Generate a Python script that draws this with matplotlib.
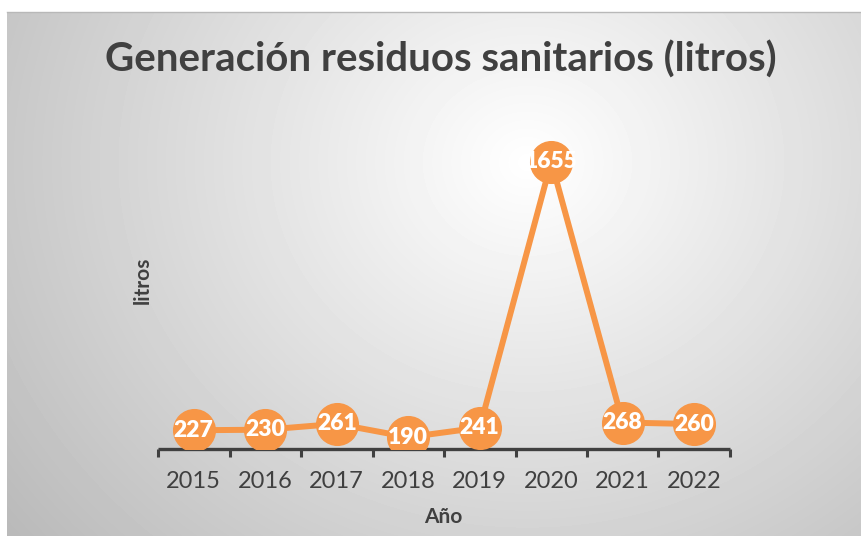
import numpy as np
import matplotlib.pyplot as plt

years = ["2015", "2016", "2017", "2018", "2019", "2020", "2021", "2022"]
litros = [227, 230, 261, 190, 241, 1655, 268, 260]

ORANGE = "#F79646"
DARK = "#404040"
W, H = 861, 536

plt.rcParams['font.family'] = ['Lato', 'DejaVu Sans']

fig = plt.figure(figsize=(W / 100, H / 100), dpi=100)

# background panel with radial gradient
bg = fig.add_axes([7 / W, 0, 1 - 7 / W, (H - 12) / H])
yy, xx = np.mgrid[0:524, 0:854]
cx, cy = 520, 150
r = np.sqrt(((xx - cx) / 560.0) ** 2 + ((yy - cy) / 500.0) ** 2)
shade = 1.0 - 0.23 * np.clip(r, 0, 1.2)
bg.imshow(shade, cmap="gray", vmin=0, vmax=1, aspect="auto",
          extent=(0, 1, 0, 1), origin="upper", interpolation="bilinear")
bg.set_axis_off()
bg.plot([0, 1], [1, 1], color="#b8b8b8", lw=1, transform=bg.transAxes, clip_on=False)

ax = fig.add_axes([158 / W, (H - 448.5) / H, 572 / W, (448.5 - 130) / H])
ax.patch.set_alpha(0)
x = np.arange(len(years))
ax.plot(x, litros, color=ORANGE, lw=4.3, marker="o", markersize=30,
        markerfacecolor=ORANGE, markeredgecolor=ORANGE, zorder=3)
for xi, v in zip(x, litros):
    ax.text(xi, v, str(v), ha="center", va="center", color="white",
            fontsize=16.5, fontweight="heavy", zorder=4)

ax.set_xlim(-0.5, len(years) - 0.5)
ax.set_ylim(130, 1823)
ax.set_xticks(x)
ax.set_xticklabels(years, fontsize=17, color=DARK)
ax.set_xticks(np.arange(-0.5, len(years)), minor=True)
ax.tick_params(axis="x", which="major", length=0, pad=16)
ax.tick_params(axis="x", which="minor", length=6, width=2.2, color=DARK, direction="out")
ax.set_yticks([])
for s in ["top", "right", "left"]:
    ax.spines[s].set_visible(False)
ax.spines["bottom"].set_color(DARK)
ax.spines["bottom"].set_linewidth(2.4)
ax.spines["bottom"].set_capstyle("butt")

fig.text(441 / W, 1 - 60 / H, "Generación residuos sanitarios (litros)",
         ha="center", va="center", fontsize=29, fontweight="bold", color=DARK)
fig.text(443 / W, 1 - 517 / H, "Año", ha="center", va="center",
         fontsize=15, fontweight="bold", color=DARK)
fig.text(143 / W, 1 - 280 / H, "litros", ha="center", va="center",
         rotation=90, fontsize=15, fontweight="bold", color=DARK)

fig.savefig("out.png", dpi=100)
